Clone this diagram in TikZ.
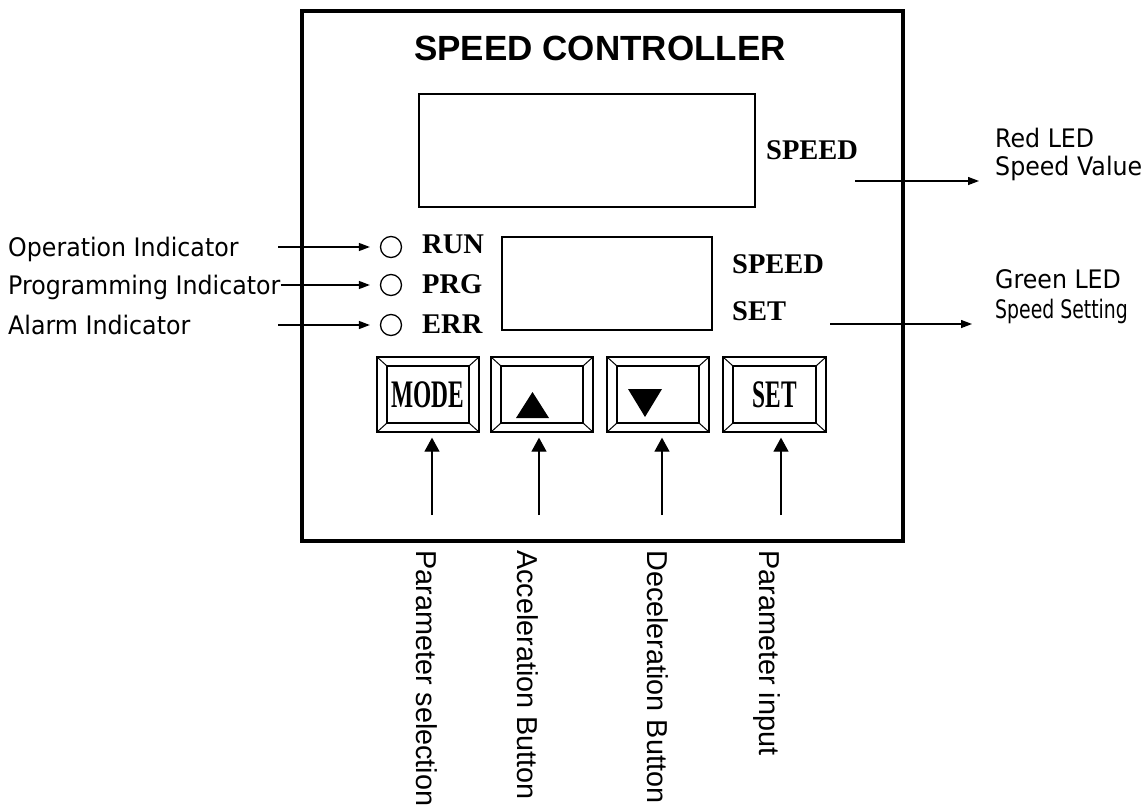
\documentclass[tikz,border=0pt]{standalone}
\usepackage{fontspec}
\setmainfont{Liberation Serif}
\newfontfamily\arialf{Liberation Sans}
\newfontfamily\tahf[FakeStretch=0.93]{DejaVu Sans}
\newfontfamily\tahcf[FakeStretch=0.74]{DejaVu Sans}
\newfontfamily\btnf[FakeStretch=0.6]{Liberation Serif}
\usetikzlibrary{arrows.meta}
\tikzset{
  frame/.style={draw, line width=3.5pt, inner sep=0pt},
  disp/.style={draw, line width=2pt, inner sep=0pt},
  lbl/.style={inner sep=0pt, anchor=base west, font=\fontsize{28.5}{30}\selectfont\bfseries},
  slab/.style={inner sep=0pt, anchor=base west, font=\fontsize{25.5}{28}\tahf},
  rlab/.style={rotate=-90, anchor=west, inner sep=0pt, font=\fontsize{28.8}{32}\arialf},
  led/.style={circle, draw, line width=1.3pt, minimum size=21pt, inner sep=0pt},
  btn/.style={draw, line width=1.3pt, minimum width=102pt, minimum height=75pt, inner sep=0pt,
    font=\fontsize{39}{40}\btnf\bfseries,
    path picture={
      \coordinate (ppsw) at (path picture bounding box.south west);
      \coordinate (ppne) at (path picture bounding box.north east);
      \coordinate (ppnw) at (path picture bounding box.north west);
      \coordinate (ppse) at (path picture bounding box.south east);
      \draw[line width=1.3pt] ([shift={(10pt,9pt)}]ppsw) rectangle ([shift={(-10pt,-9pt)}]ppne);
      \draw[line width=1pt] (ppsw) -- ([shift={(10pt,9pt)}]ppsw)
                            (ppse) -- ([shift={(-10pt,9pt)}]ppse)
                            (ppnw) -- ([shift={(10pt,-9pt)}]ppnw)
                            (ppne) -- ([shift={(-10pt,-9pt)}]ppne);
    }},
  bigarr/.style={-{Triangle[length=14pt,width=15pt]}, line width=1.3pt},
  sarr/.style={-{Triangle[length=11pt,width=8pt]}, line width=1.3pt}
}
\begin{document}
\begin{tikzpicture}[x=1pt,y=-1pt]
\useasboundingbox (0,0) rectangle (1143,811);
\fill[white] (0,0) rectangle (1143,811);

% panel
\node[frame, minimum width=601pt, minimum height=530pt] (panel) at (602.5,276) {};
\node[inner sep=0pt, anchor=base, font=\fontsize{35}{37}\arialf\bfseries] (title) at (600,60) {SPEED CONTROLLER};

% displays
\node[disp, minimum width=336pt, minimum height=113pt] (d1) at (587,150.5) {};
\node[lbl] (sp1) at (766,159) {SPEED};
\node[disp, minimum width=210pt, minimum height=93pt] (d2) at (607,283.5) {};
\node[lbl] (sp2) at (732,273) {SPEED};
\node[lbl] (set2) at (732,320) {SET};

% indicators
\node[led] (crun) at (391,247) {};
\node[led] (cprg) at (391,285) {};
\node[led] (cerr) at (391,325) {};
\node[lbl] (run) at (422,253) {RUN};
\node[lbl] (prg) at (422,293) {PRG};
\node[lbl] (err) at (422,333) {ERR};

% left labels
\node[slab] (opl) at (8,256) {Operation Indicator};
\node[slab] (prgl) at (8,294) {Programming Indicator};
\node[slab] (alml) at (8,334) {Alarm Indicator};
\coordinate (os) at (278,247);
\coordinate (as) at (278,325);
\draw[sarr, shorten >=10pt] (os) -- (crun.west);
\draw[sarr, shorten >=10pt] (prgl.east |- cprg.west) -- (cprg.west);
\draw[sarr, shorten >=10pt] (as) -- (cerr.west);

% right labels
\node[slab] (redl1) at (995,147) {Red LED};
\node[slab] (redl2) at (995,175) {Speed Value};
\node[slab] (grnl1) at (995,288) {Green LED};
\node[slab] (grnl2) at (995,318) {\tahcf Speed Setting};
\coordinate (rs) at (855,181);
\coordinate (gs) at (830,324);
\draw[sarr, shorten >=16pt] (rs) -- (rs -| redl2.west);
\draw[sarr, shorten >=23pt] (gs) -- (gs -| grnl2.west);

% buttons
\node[btn] (bmode) at (428,394.5) {MODE};
\node[btn] (bup) at (542,394.5) {};
\node[btn] (bdown) at (658,394.5) {};
\node[btn, minimum width=103pt] (bset) at (774.5,394.5) {SET};
\fill (516,418) -- (549,418) -- (532.5,392) -- cycle;
\fill (628,389) -- (662,389) -- (645,417) -- cycle;

% button arrows
\coordinate (amode) at (432,515);
\coordinate (aup) at (539,515);
\coordinate (adown) at (662,515);
\coordinate (aset) at (781,515);
\draw[bigarr, shorten >=5pt] (amode) -- (amode |- bmode.south);
\draw[bigarr, shorten >=5pt] (aup) -- (aup |- bup.south);
\draw[bigarr, shorten >=5pt] (adown) -- (adown |- bdown.south);
\draw[bigarr, shorten >=5pt] (aset) -- (aset |- bset.south);

% rotated labels
\node[rlab] (lps) at (427,550) {Parameter selection};
\node[rlab] (lab) at (528,550) {Acceleration Button};
\node[rlab] (ldb) at (658,550) {Deceleration Button};
\node[rlab] (lpi) at (767,550) {Parameter input};
\end{tikzpicture}
\end{document}
